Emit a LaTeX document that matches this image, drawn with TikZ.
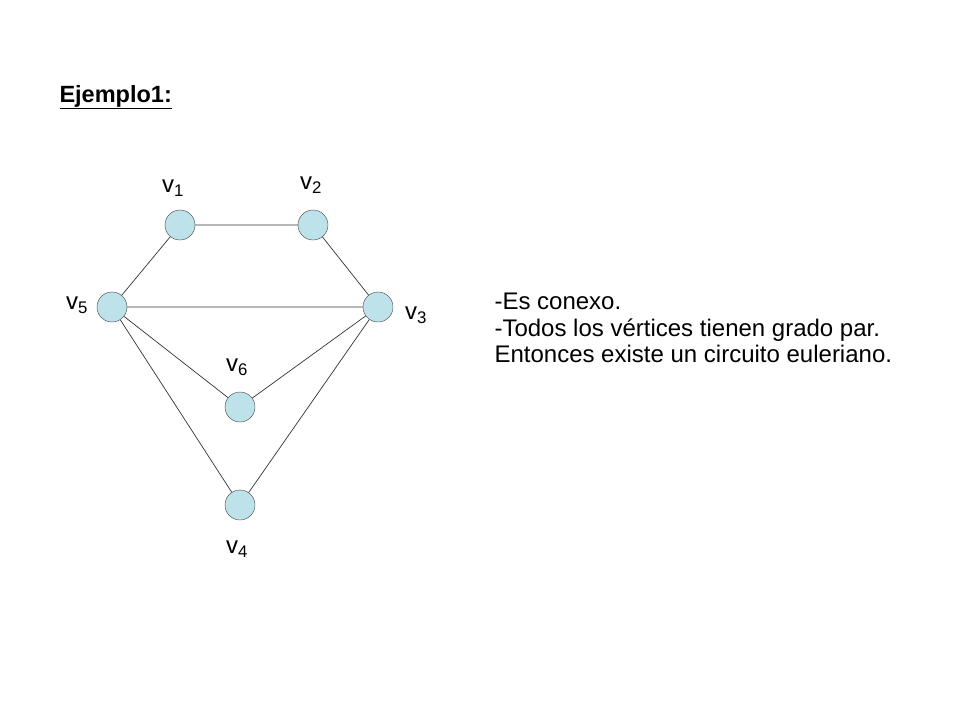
\documentclass[tikz,border=0pt]{standalone}
\usepackage{fontspec}
\setmainfont{Liberation Sans}
\begin{document}
\begin{tikzpicture}[x=1pt,y=-1pt,
  vert/.style={circle,draw=black!75,fill={rgb,255:red,190;green,226;blue,234},minimum size=30pt,inner sep=0pt},
  lab/.style={font=\fontsize{24}{28}\selectfont},
  edge/.style={draw=black!80,line width=0.7pt}]
\useasboundingbox (0,0) rectangle (960,720);
\node[anchor=west,font=\bfseries\fontsize{23.5}{26}\selectfont] (title) at (56,97) {\underline{Ejemplo1:}};
\node[vert] (v1) at (180,225) {};
\node[vert] (v2) at (313,225) {};
\node[vert] (v3) at (378,307) {};
\node[vert] (v5) at (112,307) {};
\node[vert] (v6) at (240,407) {};
\node[vert] (v4) at (240,505) {};
\draw[edge] (v1)--(v2) (v1)--(v5) (v2)--(v3) (v5)--(v3) (v5)--(v6) (v5)--(v4) (v3)--(v6) (v3)--(v4);
\node[lab] (l1) at (173,188) {v\textsubscript{1}};
\node[lab] (l2) at (311,185) {v\textsubscript{2}};
\node[lab] (l5) at (77,305) {v\textsubscript{5}};
\node[lab] (l3) at (416,315) {v\textsubscript{3}};
\node[lab] (l6) at (237,367) {v\textsubscript{6}};
\node[lab] (l4) at (237,549) {v\textsubscript{4}};
\node[anchor=west,align=left,font=\fontsize{24}{26.5}\selectfont] (txt) at (491,328) {-Es conexo.\\-Todos los vértices tienen grado par.\\Entonces existe un circuito euleriano.};
\end{tikzpicture}
\end{document}
